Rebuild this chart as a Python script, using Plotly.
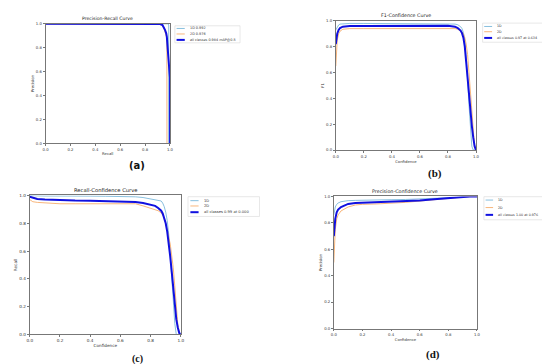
import plotly.graph_objects as go

W, H = 550, 364

# ---------------- data ----------------
names = ["1D", "2D", "all classes"]
colors = ["#6aaed6", "#f5a35a", "#1010e0"]
widths = [0.8, 0.8, 2.0]

# (a) Precision-Recall
a_1d_recall = [0, 0.5, 0.985, 0.99, 0.99]
a_1d_prec = [1.0, 1.0, 1.0, 0.99, 0.0]
a_2d_recall = [0, 0.9, 0.93, 0.95, 0.965, 0.97, 0.975, 0.976]
a_2d_prec = [1.0, 1.0, 0.995, 0.97, 0.92, 0.9, 0.88, 0.0]
a_all_recall = [0, 0.9, 0.92, 0.94, 0.95, 0.96, 0.97, 0.975, 0.985, 0.995, 1.0, 1.0]
a_all_prec = [1.0, 1.0, 0.998, 0.99, 0.975, 0.95, 0.92, 0.89, 0.75, 0.6, 0.55, 0.0]
a_labels = ["1D 0.992", "2D 0.976", "all classes 0.984 mAP@0.5"]

# (b) F1-Confidence
b_conf = [0, 0.01, 0.02, 0.03, 0.05, 0.1, 0.2, 0.3, 0.4, 0.5, 0.6, 0.7, 0.8, 0.85, 0.87,
          0.89, 0.9, 0.91, 0.92, 0.93, 0.94, 0.95, 0.96, 0.97, 0.98, 0.99, 1.0]
b_1d = [0.93, 0.955, 0.968, 0.975, 0.978, 0.98, 0.98, 0.98, 0.98, 0.98, 0.98, 0.98, 0.978, 0.975,
        0.97, 0.955, 0.94, 0.91, 0.85, 0.72, 0.55, 0.35, 0.17, 0.03, 0.0, 0.0, 0.0]
b_2d = [0.65, 0.85, 0.9, 0.92, 0.935, 0.94, 0.94, 0.94, 0.94, 0.945, 0.945, 0.945, 0.945, 0.94,
        0.935, 0.925, 0.915, 0.9, 0.87, 0.82, 0.74, 0.6, 0.45, 0.28, 0.12, 0.02, 0.0]
b_all = [0.82, 0.9, 0.93, 0.945, 0.955, 0.96, 0.96, 0.96, 0.962, 0.965, 0.965, 0.965, 0.962, 0.955,
         0.945, 0.925, 0.905, 0.87, 0.8, 0.68, 0.55, 0.42, 0.3, 0.19, 0.1, 0.03, 0.0]
b_labels = ["1D", "2D", "all classes 0.97 at 0.634"]

# (c) Recall-Confidence
c_conf = [0, 0.02, 0.05, 0.1, 0.15, 0.2, 0.3, 0.4, 0.5, 0.6, 0.7, 0.75, 0.8, 0.83, 0.85, 0.87,
          0.88, 0.89, 0.9, 0.91, 0.92, 0.93, 0.94, 0.95, 0.96, 0.97, 0.98, 0.99, 1.0]
c_1d = [1.0, 0.998, 0.997, 0.996, 0.995, 0.995, 0.995, 0.995, 0.994, 0.993, 0.99, 0.985, 0.975,
        0.97, 0.967, 0.96, 0.945, 0.92, 0.88, 0.82, 0.72, 0.58, 0.42, 0.25, 0.08, 0.0, 0.0, 0.0, 0.0]
c_2d = [0.97, 0.955, 0.95, 0.945, 0.94, 0.94, 0.94, 0.94, 0.94, 0.94, 0.94, 0.925, 0.91, 0.9,
        0.89, 0.875, 0.86, 0.84, 0.8, 0.76, 0.7, 0.65, 0.58, 0.48, 0.35, 0.2, 0.07, 0.01, 0.0]
c_all = [0.99, 0.982, 0.975, 0.97, 0.967, 0.965, 0.963, 0.962, 0.96, 0.958, 0.952, 0.945, 0.935,
         0.925, 0.91, 0.89, 0.87, 0.84, 0.8, 0.74, 0.66, 0.56, 0.45, 0.33, 0.2, 0.11, 0.05, 0.01, 0.0]
c_labels = ["1D", "2D", "all classes 0.99 at 0.000"]

# (d) Precision-Confidence
d_conf = [0, 0.005, 0.01, 0.02, 0.03, 0.05, 0.08, 0.1, 0.15, 0.2, 0.3, 0.4, 0.5, 0.6, 0.7, 0.8,
          0.85, 0.9, 0.95, 1.0]
d_1d = [0.86, 0.9, 0.92, 0.94, 0.95, 0.96, 0.965, 0.968, 0.97, 0.972, 0.974, 0.975, 0.977, 0.98,
        0.983, 0.988, 0.992, 0.997, 1.0, 1.0]
d_2d = [0.5, 0.65, 0.75, 0.83, 0.86, 0.89, 0.91, 0.92, 0.935, 0.94, 0.943, 0.947, 0.955, 0.965,
        0.975, 0.985, 0.99, 0.996, 1.0, 1.0]
d_all = [0.7, 0.78, 0.83, 0.88, 0.9, 0.92, 0.935, 0.943, 0.95, 0.952, 0.955, 0.958, 0.963, 0.97,
         0.978, 0.987, 0.991, 0.997, 1.0, 1.0]
d_labels = ["1D", "2D", "all classes 1.00 at 0.976"]

tick_vals = [0, 0.2, 0.4, 0.6, 0.8, 1.0]
tick_text = ["0.0", "0.2", "0.4", "0.6", "0.8", "1.0"]

# ---------------- layout geometry (pixels) ----------------
panels = [
    dict(key="", box=(35, 161, 13, 134), title="Precision-Recall Curve", xt="Recall", yt="Precision",
         series=[(a_1d_recall, a_1d_prec), (a_2d_recall, a_2d_prec), (a_all_recall, a_all_prec)],
         labels=a_labels, fs=3.8, lfs=3.4, tfs=4.6,
         leg=dict(box=(166, 232, 15, 32.3), rows=(17.7, 23.3, 29.3), lx=(167.7, 176), tx=179),
         tag="(a)", tagpos=(128, 157), tagfont="DejaVu Sans", tagsize=10),
    dict(key="2", box=(329, 471, 10, 141), title="F1-Confidence Curve", xt="Confidence", yt="F1",
         series=[(b_conf, b_1d), (b_conf, b_2d), (b_conf, b_all)],
         labels=b_labels, fs=3.8, lfs=3.3, tfs=4.8,
         leg=dict(box=(477.7, 541, 12.3, 31.7), rows=(15.7, 21, 27.3), lx=(479.3, 487.3), tx=490),
         tag="(b)", tagpos=(429, 165), tagfont="Liberation Serif", tagsize=11),
    dict(key="3", box=(19, 172, 187, 328), title="Recall-Confidence Curve", xt="Confidence", yt="Recall",
         series=[(c_conf, c_1d), (c_conf, c_2d), (c_conf, c_all)],
         labels=c_labels, fs=4.2, lfs=3.7, tfs=5.2,
         leg=dict(box=(179.3, 251.7, 188.3, 208.3), rows=(192.3, 197.7, 204), lx=(181.7, 190), tx=193.3),
         tag="(c)", tagpos=(128, 353), tagfont="Liberation Serif", tagsize=10),
    dict(key="4", box=(327, 472, 188, 322), title="Precision-Confidence Curve", xt="Confidence", yt="Precision",
         series=[(d_conf, d_1d), (d_conf, d_2d), (d_conf, d_all)],
         labels=d_labels, fs=3.8, lfs=3.3, tfs=4.8,
         leg=dict(box=(479, 544.3, 188.3, 211.7), rows=(191.7, 199.3, 206.7), lx=(480.7, 488.3), tx=491),
         tag="(d)", tagpos=(427, 348), tagfont="Liberation Serif", tagsize=11),
]

def px(x):
    return x / W

def py(y):
    return 1 - y / H

fig = go.Figure()
layout = dict(width=W, height=H, margin=dict(l=0, r=0, t=0, b=0), paper_bgcolor="white",
              plot_bgcolor="white", showlegend=False, font=dict(family="DejaVu Sans", color="#333"))
shapes = []
annotations = []
FRAME = "#777"

for p in panels:
    k = p["key"]
    x0, x1, y0, y1 = p["box"]
    for (xs, ys), c, w in zip(p["series"], colors, widths):
        fig.add_trace(go.Scatter(x=xs, y=ys, mode="lines", line=dict(color=c, width=w),
                                 xaxis="x" + k, yaxis="y" + k, hoverinfo="skip"))
    axcommon = dict(range=[0, 1], tickvals=tick_vals, ticktext=tick_text, ticks="outside",
                    ticklen=2, tickwidth=0.6, tickcolor=FRAME, showline=True, linecolor=FRAME,
                    linewidth=0.8, mirror=True, showgrid=False, zeroline=False,
                    tickfont=dict(size=p["fs"], color="#333"))
    layout["xaxis" + k] = dict(axcommon, domain=[px(x0), px(x1)], anchor="y" + k,
                               title=dict(text=p["xt"], font=dict(size=p["fs"]), standoff=1))
    layout["yaxis" + k] = dict(axcommon, domain=[py(y1), py(y0)], anchor="x" + k,
                               title=dict(text=p["yt"], font=dict(size=p["fs"]), standoff=1))
    annotations.append(dict(text=p["title"], x=px((x0 + x1) / 2), y=py(y0 - 0.5), xref="paper",
                            yref="paper", xanchor="center", yanchor="bottom", showarrow=False,
                            font=dict(size=p["tfs"], color="#222")))
    # legend (drawn manually to match compact matplotlib style)
    lg = p["leg"]
    bx0, bx1, by0, by1 = lg["box"]
    shapes.append(dict(type="rect", xref="paper", yref="paper", x0=px(bx0), x1=px(bx1),
                       y0=py(by1), y1=py(by0), line=dict(color="#d8d8d8", width=0.6),
                       fillcolor="white"))
    for row, lab, c, w in zip(lg["rows"], p["labels"], colors, widths):
        shapes.append(dict(type="line", xref="paper", yref="paper", x0=px(lg["lx"][0]),
                           x1=px(lg["lx"][1]), y0=py(row), y1=py(row),
                           line=dict(color=c, width=w)))
        annotations.append(dict(text=lab, x=px(lg["tx"]), y=py(row), xref="paper", yref="paper",
                                xanchor="left", yanchor="middle", showarrow=False,
                                font=dict(size=p["lfs"], color="#333")))
    annotations.append(dict(text="<b>" + p["tag"] + "</b>", x=px(p["tagpos"][0]), y=py(p["tagpos"][1]),
                            xref="paper", yref="paper", xanchor="center", yanchor="middle",
                            showarrow=False,
                            font=dict(size=p["tagsize"], family=p["tagfont"], color="#111")))

layout["shapes"] = shapes
layout["annotations"] = annotations
fig.update_layout(**layout)
fig.write_html("out.html")
